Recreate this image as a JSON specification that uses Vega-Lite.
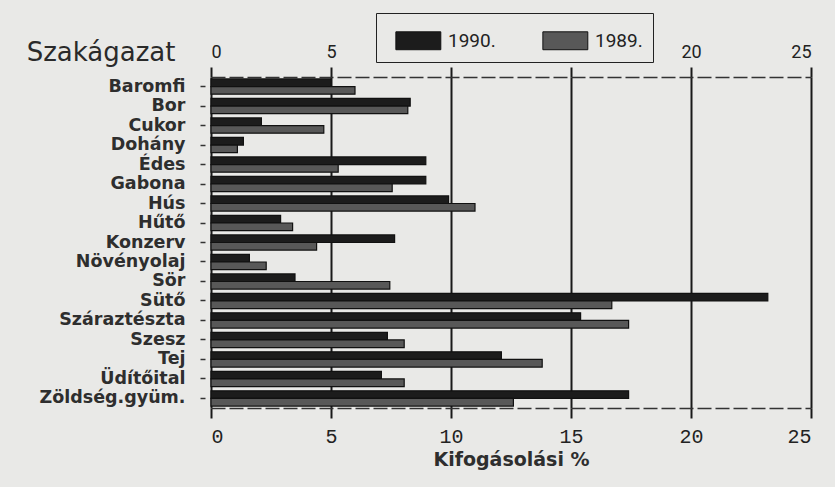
{
  "$schema": "https://vega.github.io/schema/vega-lite/v6.json",
  "autosize": {"type": "none"},
  "width": 600,
  "height": 331,
  "padding": {"left": 211, "top": 77, "right": 24, "bottom": 79},
  "background": "#e9e9e7",
  "config": {"view": {"stroke": null}},
  "data": {"values": [
    {"ag": "Baromfi", "ev": "1990.", "v": 5.0}, {"ag": "Baromfi", "ev": "1989.", "v": 6.0},
    {"ag": "Bor", "ev": "1990.", "v": 8.3}, {"ag": "Bor", "ev": "1989.", "v": 8.2},
    {"ag": "Cukor", "ev": "1990.", "v": 2.1}, {"ag": "Cukor", "ev": "1989.", "v": 4.7},
    {"ag": "Dohány", "ev": "1990.", "v": 1.35}, {"ag": "Dohány", "ev": "1989.", "v": 1.1},
    {"ag": "Édes", "ev": "1990.", "v": 8.95}, {"ag": "Édes", "ev": "1989.", "v": 5.3},
    {"ag": "Gabona", "ev": "1990.", "v": 8.95}, {"ag": "Gabona", "ev": "1989.", "v": 7.55},
    {"ag": "Hús", "ev": "1990.", "v": 9.9}, {"ag": "Hús", "ev": "1989.", "v": 11.0},
    {"ag": "Hűtő", "ev": "1990.", "v": 2.9}, {"ag": "Hűtő", "ev": "1989.", "v": 3.4},
    {"ag": "Konzerv", "ev": "1990.", "v": 7.65}, {"ag": "Konzerv", "ev": "1989.", "v": 4.4},
    {"ag": "Növényolaj", "ev": "1990.", "v": 1.6}, {"ag": "Növényolaj", "ev": "1989.", "v": 2.3},
    {"ag": "Sör", "ev": "1990.", "v": 3.5}, {"ag": "Sör", "ev": "1989.", "v": 7.45},
    {"ag": "Sütő", "ev": "1990.", "v": 23.2}, {"ag": "Sütő", "ev": "1989.", "v": 16.7},
    {"ag": "Száraztészta", "ev": "1990.", "v": 15.4}, {"ag": "Száraztészta", "ev": "1989.", "v": 17.4},
    {"ag": "Szesz", "ev": "1990.", "v": 7.35}, {"ag": "Szesz", "ev": "1989.", "v": 8.05},
    {"ag": "Tej", "ev": "1990.", "v": 12.1}, {"ag": "Tej", "ev": "1989.", "v": 13.8},
    {"ag": "Üdítőital", "ev": "1990.", "v": 7.1}, {"ag": "Üdítőital", "ev": "1989.", "v": 8.05},
    {"ag": "Zöldség.gyüm.", "ev": "1990.", "v": 17.4}, {"ag": "Zöldség.gyüm.", "ev": "1989.", "v": 12.6}
  ]},
  "encoding": {
    "y": {
      "field": "ag", "type": "nominal", "sort": null,
      "scale": {"paddingInner": 0.22, "paddingOuter": 0.1},
      "axis": {
        "title": "Szakágazat", "titleAngle": 0, "titleAlign": "right", "titleBaseline": "middle",
        "titleX": -30, "titleY": -25, "titleFont": "DejaVu Sans", "titleFontSize": 26, "titleFontWeight": "normal", "titleColor": "#2a2a2a",
        "domain": false, "offset": 6, "tickSize": 5, "tickColor": "#333", "tickWidth": 1.5,
        "labelPadding": 15, "labelFont": "DejaVu Sans", "labelFontSize": 17.5, "labelFontWeight": "bold", "labelColor": "#2e2e2e"
      }
    },
    "yOffset": {"field": "ev", "type": "nominal", "sort": ["1990.", "1989."]},
    "color": {
      "field": "ev", "type": "nominal", "sort": ["1990.", "1989."],
      "scale": {"domain": ["1990.", "1989."], "range": ["#1c1c1c", "#585858"]},
      "legend": {
        "title": null, "orient": "none", "legendX": 165, "legendY": -64, "direction": "horizontal",
        "strokeColor": "#222", "fillColor": "#e9e9e7", "padding": 10, "columnPadding": 37,
        "symbolType": "M-0.46,-0.54H2.25V0.54H-0.46Z", "symbolSize": 1100, "symbolStrokeColor": "#111", "symbolStrokeWidth": 1,
        "labelFont": "Roboto", "labelFontSize": 19, "labelColor": "#222", "labelOffset": 27
      }
    }
  },
  "resolve": {"axis": {"x": "independent"}},
  "layer": [
    {
      "mark": {"type": "bar", "stroke": "#111", "strokeWidth": 1.2},
      "encoding": {
        "x": {
          "field": "v", "type": "quantitative",
          "scale": {"domain": [0, 25], "nice": false},
          "axis": {
            "orient": "bottom", "values": [0, 5, 10, 15, 20, 25], "title": "Kifogásolási %",
            "titleFont": "DejaVu Sans", "titleFontSize": 19, "titleFontWeight": "bold", "titleColor": "#2e2e2e", "titlePadding": 4,
            "grid": true, "gridColor": "#1a1a1a", "gridWidth": 2,
            "domainDash": [14, 4], "domainColor": "#333", "domainWidth": 1.5,
            "tickSize": 10, "tickWidth": 2, "tickColor": "#1a1a1a",
            "labelFont": "Liberation Mono", "labelFontSize": 20, "labelColor": "#222", "labelPadding": 8
          }
        }
      }
    },
    {
      "mark": {"type": "bar", "opacity": 0},
      "encoding": {
        "x": {
          "field": "v", "type": "quantitative",
          "axis": {
            "orient": "top", "values": [0, 5, 10, 15, 20, 25], "title": null, "grid": false,
            "labelExpr": "datum.value == 10 || datum.value == 15 ? '' : datum.label",
            "domainDash": [14, 4], "domainColor": "#333", "domainWidth": 1.5,
            "tickSize": 10, "tickWidth": 2, "tickColor": "#1a1a1a",
            "labelFont": "Roboto", "labelFontSize": 18, "labelColor": "#222", "labelPadding": 6
          }
        }
      }
    }
  ]
}
